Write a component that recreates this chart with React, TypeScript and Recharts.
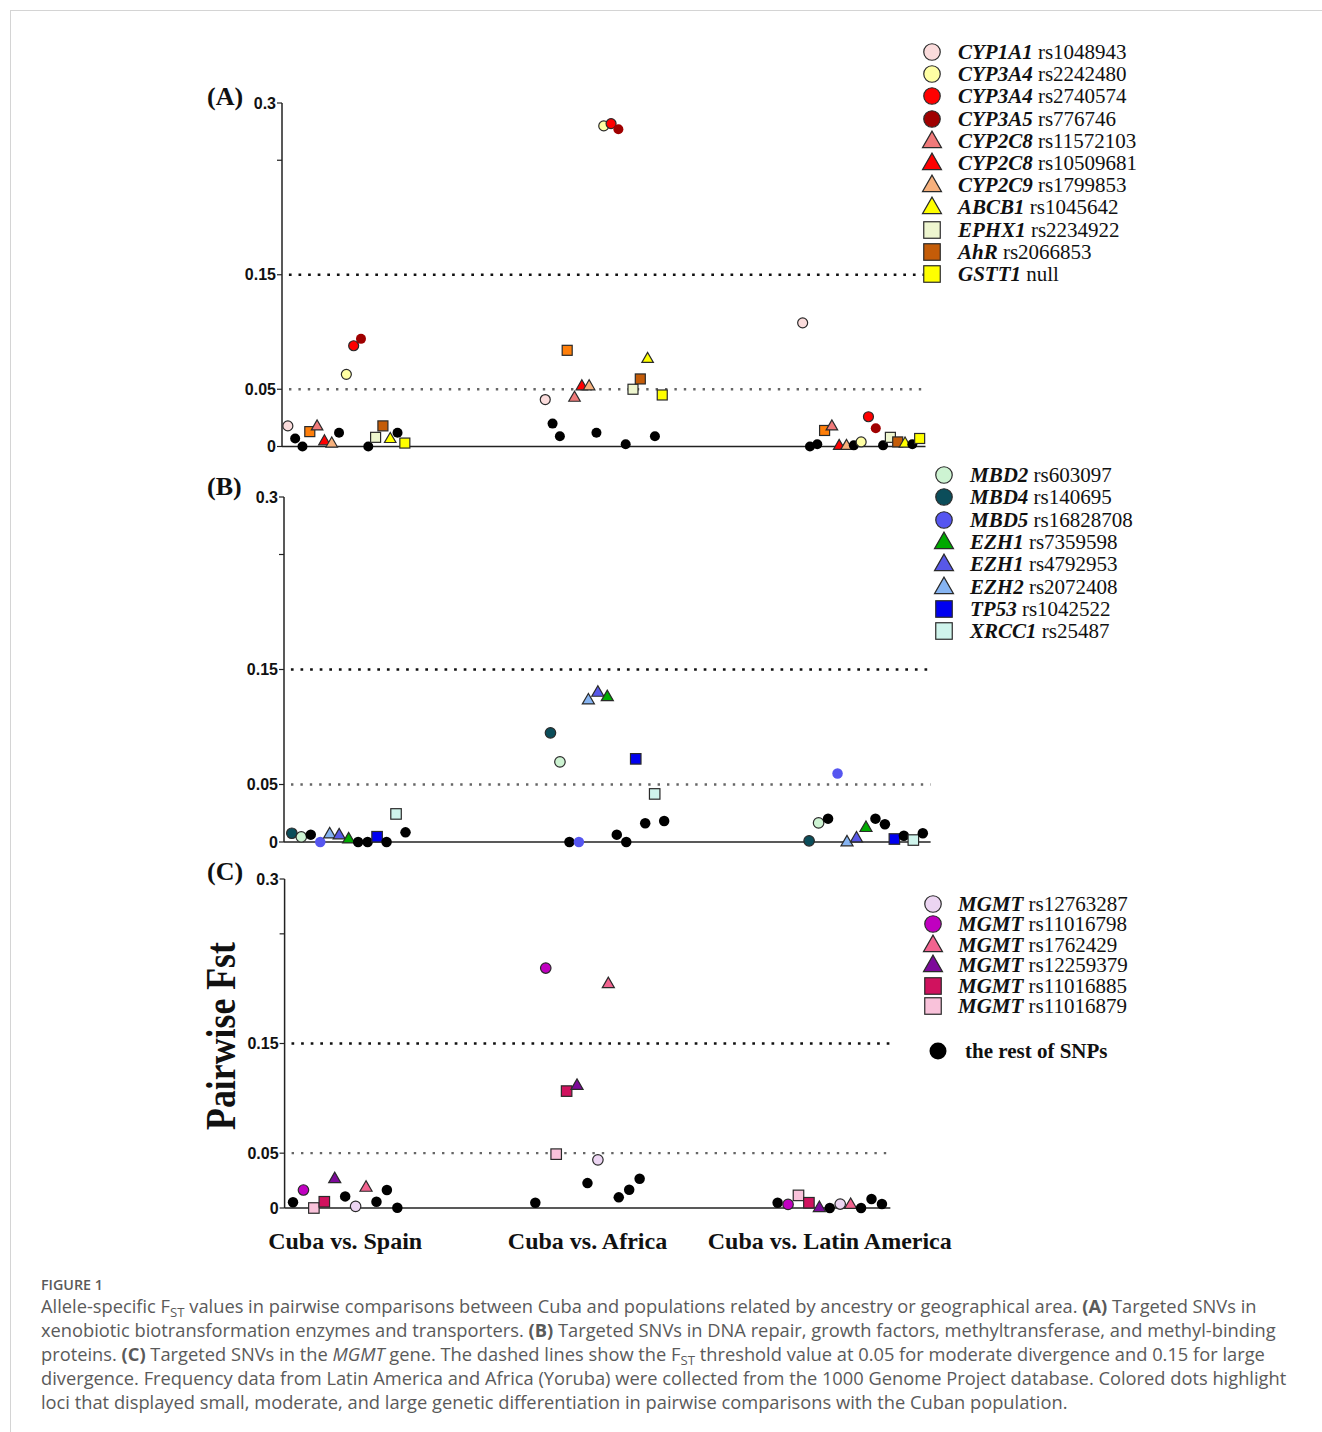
import React from "react";
import { ScatterChart, Scatter, XAxis, YAxis, ReferenceLine } from "recharts";

const COMPARISONS = ["Cuba vs. Spain", "Cuba vs. Africa", "Cuba vs. Latin America"];
const FST_TICKS = [0, 0.05, 0.15, 0.25, 0.3];
const FST_TICK_LABELS = ["0", "0.05", "0.15", "", "0.3"];
const MODERATE = 0.05;
const LARGE = 0.15;

// (A) biotransformation SNPs, in the order they are spread inside each comparison
const A_GENES = ["CYP1A1", "", "", "", "CYP2C8", "CYP2C8", "CYP2C9", "", "CYP3A4", "CYP3A4", "CYP3A5", "", "EPHX1", "AhR", "ABCB1", "", "GSTT1"];
const A_RS = ["rs1048943", "", "", "", "rs11572103", "rs10509681", "rs1799853", "", "rs2242480", "rs2740574", "rs776746", "", "rs2234922", "rs2066853", "rs1045642", "", "null"];
// Fst vs Spain, Africa, Latin America
const A_FST = [
  [0.018, 0.041, 0.108],
  [0.007, 0.020, 0.0],
  [0.0, 0.009, 0.002],
  [0.013, 0.084, 0.014],
  [0.018, 0.043, 0.018],
  [0.005, 0.053, 0.001],
  [0.003, 0.053, 0.001],
  [0.012, 0.012, 0.001],
  [0.063, 0.280, 0.004],
  [0.088, 0.282, 0.026],
  [0.094, 0.277, 0.016],
  [0.0, 0.002, 0.001],
  [0.008, 0.050, 0.008],
  [0.018, 0.059, 0.004],
  [0.007, 0.077, 0.003],
  [0.012, 0.009, 0.002],
  [0.003, 0.045, 0.007],
];
const A_LEGEND = [0, 8, 9, 10, 4, 5, 6, 14, 12, 13, 16];

// (B) DNA repair / methyl-binding SNPs
const B_GENES = ["MBD4", "MBD2", "", "MBD5", "EZH2", "EZH1", "EZH1", "", "", "TP53", "", "XRCC1", ""];
const B_RS = ["rs140695", "rs603097", "", "rs16828708", "rs2072408", "rs4792953", "rs7359598", "", "", "rs1042522", "", "rs25487", ""];
const B_FST = [
  [0.0076, 0.0949, 0.001],
  [0.0044, 0.0697, 0.0166],
  [0.0064, 0.0, 0.0203],
  [0.0, 0.0, 0.0595],
  [0.0072, 0.1237, 0.0003],
  [0.0064, 0.1304, 0.0037],
  [0.0029, 0.1266, 0.0128],
  [0.0, 0.0064, 0.0203],
  [0.0, 0.0, 0.0154],
  [0.0046, 0.0723, 0.0026],
  [0.0, 0.0163, 0.0055],
  [0.0244, 0.0418, 0.0017],
  [0.0084, 0.0183, 0.0076],
];
const B_LEGEND = [1, 0, 3, 6, 5, 4, 9, 11];

// (C) MGMT SNPs
const C_GENES = ["", "MGMT", "MGMT", "MGMT", "MGMT", "", "MGMT", "MGMT", "", "", ""];
const C_RS = ["", "rs11016798", "rs11016879", "rs11016885", "rs12259379", "", "rs12763287", "rs1762429", "", "", ""];
const C_FST = [
  [0.0052, 0.0048, 0.0048],
  [0.0164, 0.2188, 0.0033],
  [0.0, 0.0491, 0.0115],
  [0.0057, 0.1066, 0.0048],
  [0.027, 0.112, 0.0006],
  [0.0106, 0.0227, 0.0],
  [0.0015, 0.0439, 0.0036],
  [0.0191, 0.2048, 0.0034],
  [0.0057, 0.0097, 0.0],
  [0.0164, 0.0166, 0.0082],
  [0.0003, 0.0267, 0.0036],
];
const C_LEGEND = [6, 1, 7, 4, 3, 2];

// marker kind and fill per SNP
const DOT: [string, string] = ["dot", "#000"];
const A_LOOK: [string, string][] = [
  ["circle", "#fbdcdc"], DOT, DOT, ["square", "#ff7f0a"], ["triangle", "#f07a7a"], ["triangle", "#ff0000"],
  ["triangle", "#f6b07c"], DOT, ["circle", "#ffffa4"], ["circle", "#ff0000"], ["disc", "#a00000"], DOT,
  ["square", "#eef6cf"], ["square", "#c45c08"], ["triangle", "#ffff00"], DOT, ["square", "#ffff00"],
];
const B_LOOK: [string, string][] = [
  ["circle", "#0b4d5a"], ["circle", "#cdf3d2"], DOT, ["disc", "#5656f0"], ["triangle", "#86b4f2"], ["triangle", "#5858e8"],
  ["triangle", "#00aa00"], DOT, DOT, ["square", "#0000f0"], DOT, ["square", "#cff4ec"], DOT,
];
const C_LOOK: [string, string][] = [
  DOT, ["circle", "#c000c0"], ["square", "#f9c2da"], ["square", "#d0125e"], ["triangle", "#7d0a9a"], DOT,
  ["circle", "#ecd5f2"], ["triangle", "#f2638f"], DOT, DOT, DOT,
];

const SERIF = '"Liberation Serif", "Times New Roman", serif';
const SANS = '"Liberation Sans", Arial, sans-serif';

function Mark({ cx, cy, kind, fill, s }: { cx: number; cy: number; kind: string; fill: string; s: number }) {
  const stroke = kind === "dot" || kind === "disc" ? "none" : "#2a2a2a";
  if (kind === "square")
    return <rect x={cx - s / 2} y={cy - s / 2} width={s} height={s} fill={fill} stroke={stroke} strokeWidth={1.2} />;
  if (kind === "triangle") {
    const w = s * 1.15;
    const h = s * 1.0;
    return (
      <polygon
        points={`${cx},${cy - h * 0.6} ${cx - w / 2},${cy + h * 0.4} ${cx + w / 2},${cy + h * 0.4}`}
        fill={fill}
        stroke={stroke}
        strokeWidth={1.2}
        strokeLinejoin="miter"
      />
    );
  }
  return <circle cx={cx} cy={cy} r={s / 2} fill={fill} stroke={stroke} strokeWidth={1.2} />;
}

function CategoryTick({ x, y, payload }: any) {
  return (
    <text x={x} y={y + 31} textAnchor="middle" dominantBaseline="central" fontFamily={SERIF} fontWeight={700} fontSize={24} fill="#111">
      {COMPARISONS[payload.value]}
    </text>
  );
}

function Panel({
  top, height, width, plotTop, plotH, plotLeft, spacing, spread, size, fst, look, categories,
}: {
  top: number; height: number; width: number; plotTop: number; plotH: number; plotLeft: number;
  spacing: number; spread: number; size: number; fst: number[][]; look: [string, string][]; categories?: boolean;
}) {
  const n = fst.length;
  const plotW = 2.5 * spacing;
  const xAxisH = categories ? 50 : 4;
  const margin = {
    top: plotTop - top,
    left: 0,
    right: width - plotLeft - plotW,
    bottom: height - (plotTop - top) - plotH - xAxisH,
  };
  return (
    <div style={{ position: "absolute", left: 0, top }}>
      <ScatterChart width={width} height={height} margin={margin}>
        <XAxis
          type="number"
          dataKey="x"
          domain={[-0.25, 2.25]}
          ticks={[0, 1, 2]}
          height={xAxisH}
          axisLine={{ stroke: "#222", strokeWidth: 1.5 }}
          tickLine={false}
          tickSize={0}
          tick={categories ? <CategoryTick /> : false}
        />
        <YAxis
          type="number"
          dataKey="y"
          domain={[0, 0.3]}
          ticks={FST_TICKS}
          interval={0}
          width={plotLeft}
          axisLine={{ stroke: "#222", strokeWidth: 1.5 }}
          tickLine={{ stroke: "#222", strokeWidth: 1.2 }}
          tickSize={5}
          tickMargin={1}
          tickFormatter={(v: number) => FST_TICK_LABELS[FST_TICKS.indexOf(v)] ?? ""}
          tick={{ fontSize: 16, fontWeight: 700, fill: "#111", fontFamily: SANS }}
        />
        <ReferenceLine y={LARGE} stroke="#111" strokeWidth={2.7} strokeDasharray="0 6.9 2.7 0" />
        <ReferenceLine y={MODERATE} stroke="#666" strokeWidth={2.4} strokeDasharray="0 7 2.4 0" />
        {fst.map((vals, i) => {
          const off = ((i - (n - 1) / 2) * spread) / (n - 1);
          const [kind, fill] = look[i];
          return (
            <Scatter
              key={i}
              data={vals.map((v, g) => ({ x: g + off, y: v }))}
              isAnimationActive={false}
              shape={(p: any) => <Mark cx={p.cx} cy={p.cy} kind={kind} fill={fill} s={size} />}
            />
          );
        })}
      </ScatterChart>
    </div>
  );
}

function LegendBlock({
  top, step, markerX, textX, genes, rs, look, order,
}: {
  top: number; step: number; markerX: number; textX: number; genes: string[]; rs: string[];
  look: [string, string][]; order: number[];
}) {
  const rowH = Math.floor(step);
  return (
    <>
      {order.map((idx, k) => {
        const cy = top + k * step;
        const [kind, fill] = look[idx];
        return (
          <React.Fragment key={idx}>
            <svg style={{ position: "absolute", left: markerX - 11, top: cy - 11 }} width={22} height={22}>
              <Mark cx={11} cy={11} kind={kind === "disc" ? "circle" : kind} fill={fill} s={16.5} />
            </svg>
            <div
              style={{
                position: "absolute", left: textX, top: cy - rowH / 2, height: rowH, lineHeight: `${rowH}px`,
                fontFamily: SERIF, fontSize: 21, color: "#111", whiteSpace: "nowrap",
              }}
            >
              <b><i>{genes[idx]}</i></b> {rs[idx]}
            </div>
          </React.Fragment>
        );
      })}
    </>
  );
}

const panelLetter = (label: string, cy: number) => (
  <div
    style={{
      position: "absolute", left: 207, top: cy - 16, height: 32, lineHeight: "32px",
      fontFamily: SERIF, fontWeight: 700, fontSize: 26, color: "#111",
    }}
  >
    {label}
  </div>
);

const sub = (t: string) => <span style={{ fontSize: "0.72em", position: "relative", top: "0.3em" }}>{t}</span>;

export default function App() {
  const captionLine = { height: 24, lineHeight: "24px", whiteSpace: "nowrap" as const };
  return (
    <div style={{ position: "absolute", left: 0, top: 0, width: 1322, height: 1432, overflow: "hidden", background: "#fff" }}>
      <div
        style={{
          position: "absolute", left: 10, top: 10, width: 1320, height: 1430,
          borderLeft: "1px solid #d4d4d4", borderTop: "1px solid #d4d4d4",
        }}
      />
      <Panel top={0} height={470} width={960} plotTop={103} plotH={343.5} plotLeft={282}
        spacing={257.4} spread={0.4545} size={10} fst={A_FST} look={A_LOOK} />
      <Panel top={460} height={400} width={960} plotTop={497} plotH={345} plotLeft={284}
        spacing={258.65} spread={0.4396} size={10.5} fst={B_FST} look={B_LOOK} />
      <Panel top={850} height={420} width={952} plotTop={879} plotH={329} plotLeft={284.6}
        spacing={242.3} spread={0.4305} size={10.5} fst={C_FST} look={C_LOOK} categories />

      {panelLetter("(A)", 97)}
      {panelLetter("(B)", 487)}
      {panelLetter("(C)", 872)}

      <svg style={{ position: "absolute", left: 190, top: 890 }} width={60} height={300}>
        <text
          transform="translate(45,146) rotate(-90)"
          textAnchor="middle"
          fontFamily={SERIF}
          fontWeight={700}
          fontSize={42}
          textLength={188}
          lengthAdjust="spacingAndGlyphs"
          fill="#111"
        >
          Pairwise Fst
        </text>
      </svg>

      <LegendBlock top={52} step={22.2} markerX={932} textX={958} genes={A_GENES} rs={A_RS} look={A_LOOK} order={A_LEGEND} />
      <LegendBlock top={475} step={22.3} markerX={944} textX={970} genes={B_GENES} rs={B_RS} look={B_LOOK} order={B_LEGEND} />
      <LegendBlock top={904} step={20.4} markerX={933} textX={958} genes={C_GENES} rs={C_RS} look={C_LOOK} order={C_LEGEND} />
      <svg style={{ position: "absolute", left: 927, top: 1040 }} width={22} height={22}>
        <Mark cx={11} cy={11} kind="dot" fill="#000" s={17} />
      </svg>
      <div
        style={{
          position: "absolute", left: 965, top: 1040, height: 22, lineHeight: "22px",
          fontFamily: SERIF, fontWeight: 700, fontSize: 21, color: "#111", whiteSpace: "nowrap",
        }}
      >
        the rest of SNPs
      </div>

      <div style={{ position: "absolute", left: 41, top: 1275, fontFamily: '"Open Sans", sans-serif', color: "#5a5a5a" }}>
        <div style={{ fontSize: 14.3, fontWeight: 600, height: 19, lineHeight: "19px" }}>FIGURE 1</div>
        <div style={{ fontSize: 18.3 }}>
          <div style={captionLine}>
            Allele-specific F{sub("ST")} values in pairwise comparisons between Cuba and populations related by ancestry or geographical area. <b>(A)</b> Targeted SNVs in
          </div>
          <div style={captionLine}>
            xenobiotic biotransformation enzymes and transporters. <b>(B)</b> Targeted SNVs in DNA repair, growth factors, methyltransferase, and methyl-binding
          </div>
          <div style={captionLine}>
            proteins. <b>(C)</b> Targeted SNVs in the <i>MGMT</i> gene. The dashed lines show the F{sub("ST")} threshold value at 0.05 for moderate divergence and 0.15 for large
          </div>
          <div style={captionLine}>
            divergence. Frequency data from Latin America and Africa (Yoruba) were collected from the 1000 Genome Project database. Colored dots highlight
          </div>
          <div style={captionLine}>
            loci that displayed small, moderate, and large genetic differentiation in pairwise comparisons with the Cuban population.
          </div>
        </div>
      </div>
    </div>
  );
}
